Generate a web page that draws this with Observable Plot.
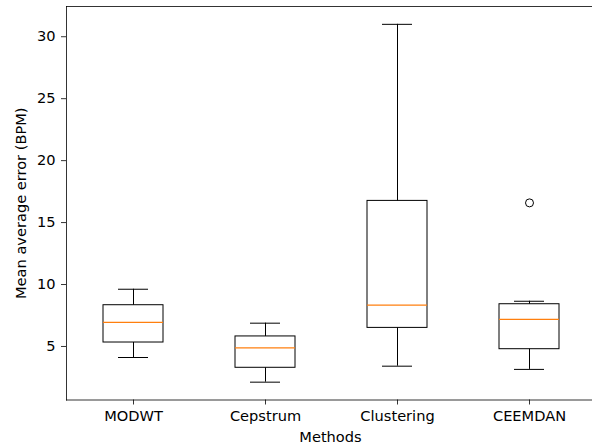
<!DOCTYPE html>
<html><head><meta charset="utf-8">
<script src="https://cdn.jsdelivr.net/npm/d3@7"></script>
<script src="https://cdn.jsdelivr.net/npm/@observablehq/plot@0.6"></script>
<style>html,body{margin:0;padding:0;background:#fff;overflow:hidden}</style>
</head><body><div id="chart"></div>
<script>
const methods = ["MODWT", "Cepstrum", "Clustering", "CEEMDAN"];
const whiskerLow = [4.11, 2.12, 3.41, 3.15];
const q1 = [5.32, 3.28, 6.50, 4.78];
const median = [6.94, 4.89, 8.33, 7.18];
const q3 = [8.33, 5.81, 16.75, 8.41];
const whiskerHigh = [9.62, 6.88, 31.0, 8.65];
const outlierMethod = ["CEEMDAN"];
const outlierValue = [16.59];
const yTicks = [5, 10, 15, 20, 25, 30];

const boxes = methods.map((m, i) => ({
  method: m, lo: whiskerLow[i], q1: q1[i], med: median[i], q3: q3[i], hi: whiskerHigh[i]
}));
const outliers = outlierMethod.map((m, i) => ({method: m, value: outlierValue[i]}));

const fs = 14.6;
const capInset = 15;
const chart = Plot.plot({
  width: 592, height: 444,
  marginLeft: 66, marginRight: 0, marginTop: 6, marginBottom: 44.5,
  style: {fontFamily: "DejaVu Sans", fontSize: fs + "px", color: "#000", background: "#fff"},
  x: {type: "band", domain: methods, range: [66, 595], paddingInner: 0.5465, paddingOuter: 0.27325, label: null},
  y: {domain: [0.68, 32.44], label: null},
  marks: [
    Plot.frame({anchor: "top", stroke: "#000", strokeWidth: 0.8}),
    Plot.frame({anchor: "bottom", stroke: "#000", strokeWidth: 0.8}),
    Plot.frame({anchor: "left", stroke: "#000", strokeWidth: 0.8}),
    Plot.axisY({ticks: yTicks, tickSize: 5, tickPadding: 6, label: null, fontSize: fs, stroke: "#000", strokeWidth: 0.8}),
    Plot.axisX({tickSize: 5, tickPadding: 6, label: null, fontSize: fs, stroke: "#000", strokeWidth: 0.8}),
    Plot.ruleX(boxes, {x: "method", y1: "q3", y2: "hi", stroke: "#000", strokeWidth: 1}),
    Plot.ruleX(boxes, {x: "method", y1: "lo", y2: "q1", stroke: "#000", strokeWidth: 1}),
    Plot.tickY(boxes, {x: "method", y: "hi", stroke: "#000", strokeWidth: 1, insetLeft: capInset, insetRight: capInset}),
    Plot.tickY(boxes, {x: "method", y: "lo", stroke: "#000", strokeWidth: 1, insetLeft: capInset, insetRight: capInset}),
    Plot.barY(boxes, {x: "method", y1: "q1", y2: "q3", fill: "none", stroke: "#000", strokeWidth: 1}),
    Plot.tickY(boxes, {x: "method", y: "med", stroke: "#ff7f0e", strokeWidth: 1.2}),
    Plot.dot(outliers, {x: "method", y: "value", r: 4, fill: "none", stroke: "#000", strokeWidth: 1}),
    Plot.text(["Methods"], {frameAnchor: "bottom", dx: 1, dy: 42, lineAnchor: "bottom", textAnchor: "middle", fontSize: fs, fill: "#000"}),
    Plot.text(["Mean average error (BPM)"], {frameAnchor: "left", dx: -45, rotate: -90, lineAnchor: "middle", textAnchor: "middle", fontSize: fs, fill: "#000"})
  ]
});
document.getElementById("chart").appendChild(chart);
</script>
</body></html>
